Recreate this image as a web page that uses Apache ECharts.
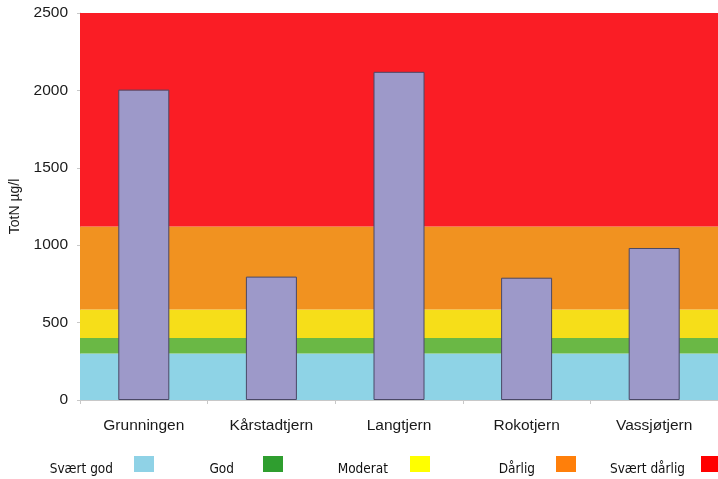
<!DOCTYPE html>
<html>
<head>
<meta charset="utf-8">
<script src="https://cdn.jsdelivr.net/npm/echarts@6/dist/echarts.min.js"></script>
<style>
html,body{margin:0;padding:0;background:#fff;}
#chart{width:718px;height:479px;}
</style>
</head>
<body>
<div id="chart"></div>
<script>
// Data
const categories = ['Grunningen', 'Kårstadtjern', 'Langtjern', 'Rokotjern', 'Vassjøtjern'];
const totN = [2005, 797, 2120, 790, 982];
const yTicks = [0, 500, 1000, 1500, 2000, 2500];
const classNames = ['Svært god', 'God', 'Moderat', 'Dårlig', 'Svært dårlig'];
const classLower = [0, 300, 400, 585, 1120];
const classUpper = [300, 400, 585, 1120, 2500];

// Styles
const bandColors = ['#8ed3e6', '#6ab845', '#f6de19', '#f19220', '#fa1d25'];
const legendColors = ['#8fd2e6', '#2f9e2f', '#ffff00', '#ff7f0a', '#ff0000'];
const legendRight = [564, 435, 288, 142, -3];
const legendGapPad = [16, 24, 17, 16, 11];

const chart = echarts.init(document.getElementById('chart'), null, {renderer: 'canvas'});

const bandSeries = classNames.map((n, i) => ({
  name: n,
  type: 'line',
  data: [],
  z: 1,
  silent: true,
  markArea: {
    silent: true,
    itemStyle: {color: bandColors[i], opacity: 1},
    data: [[{yAxis: classLower[i]}, {yAxis: classUpper[i]}]]
  }
}));

const legends = classNames.map((n, i) => ({
  right: legendRight[i],
  top: 456,
  orient: 'horizontal',
  align: 'right',
  icon: 'rect',
  itemWidth: 20,
  itemHeight: 16,
  selectedMode: false,
  padding: 0,
  formatter: '{t|{name}}',
  textStyle: {
    fontFamily: 'Liberation Sans Narrow, DejaVu Sans Condensed, sans-serif',
    fontSize: 13.5,
    color: '#111',
    rich: {
      t: {
        fontFamily: 'Liberation Sans Narrow, DejaVu Sans Condensed, sans-serif',
        fontSize: 13.5,
        color: '#111',
        padding: [10, legendGapPad[i], 0, 0]
      }
    }
  },
  data: [{name: n, itemStyle: {color: legendColors[i]}}]
}));

chart.setOption({
  animation: false,
  backgroundColor: '#fff',
  grid: {left: 80, top: 13, right: -5, bottom: 79, containLabel: false},
  legend: legends,
  xAxis: {
    type: 'category',
    data: categories,
    axisLine: {show: true, lineStyle: {color: '#c8c8c8', width: 1}},
    axisTick: {show: true, length: 4, lineStyle: {color: '#c8c8c8'}},
    axisLabel: {
      color: '#1a1a1a',
      fontFamily: 'Liberation Sans, Arial, sans-serif',
      fontSize: 15.5,
      margin: 18
    }
  },
  yAxis: {
    type: 'value',
    min: yTicks[0],
    max: yTicks[yTicks.length - 1],
    interval: 500,
    name: 'TotN µg/l',
    nameLocation: 'middle',
    nameGap: 56,
    nameTextStyle: {
      color: '#1a1a1a',
      fontFamily: 'Liberation Sans, Arial, sans-serif',
      fontSize: 14
    },
    axisLine: {show: true, lineStyle: {color: '#d0d0d0'}},
    axisTick: {show: true, length: 3, lineStyle: {color: '#c8c8c8'}},
    splitLine: {show: false},
    axisLabel: {
      color: '#1a1a1a',
      fontFamily: 'Liberation Sans, Arial, sans-serif',
      fontSize: 15.5,
      margin: 12,
      formatter: v => String(v)
    }
  },
  series: bandSeries.concat([{
    name: 'TotN',
    type: 'bar',
    data: totN,
    barWidth: 51,
    z: 5,
    itemStyle: {color: '#9d99c9', borderColor: '#4a4866', borderWidth: 1}
  }])
});
</script>
</body>
</html>
